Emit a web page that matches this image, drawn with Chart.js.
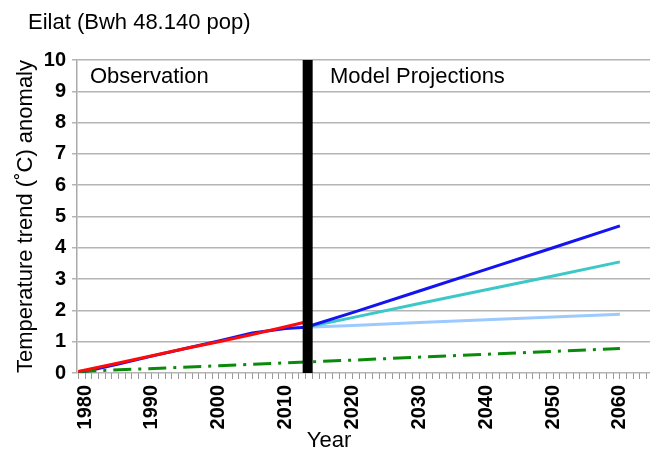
<!DOCTYPE html>
<html>
<head>
<meta charset="utf-8">
<script src="https://cdn.jsdelivr.net/npm/chart.js@4"></script>
<style>
  html, body { margin: 0; padding: 0; background: #fff; }
  #wrap { width: 652px; height: 453px; }
</style>
</head>
<body>
<div id="wrap"><canvas id="chart" width="652" height="453"></canvas></div>
<script>
// Observation period
const obsYears = [1979, 1985, 1990, 1995, 2000, 2005, 2010, 2013];
const obsRed = [0.05, 0.32, 0.55, 0.78, 1.0, 1.23, 1.48, 1.63];
const obsBlue = [0.0, 0.29, 0.54, 0.78, 1.02, 1.28, 1.42, 1.46];

// Model projections
const projYears = [2013, 2020, 2030, 2040, 2050, 2060];
const projHigh = [1.46, 1.93, 2.62, 3.31, 4.0, 4.7];
const projMid = [1.46, 1.77, 2.22, 2.66, 3.1, 3.55];
const projLow = [1.46, 1.52, 1.61, 1.7, 1.79, 1.88];

// Long-term trend (dash-dot)
const trendYears = [1979, 2000, 2013, 2020, 2040, 2060];
const trendValues = [0.05, 0.23, 0.35, 0.41, 0.6, 0.78];

// Divider between observation and projection
const dividerYear = 2013.3;
const dividerRange = [0, 10];

const yTicks = [0, 1, 2, 3, 4, 5, 6, 7, 8, 9, 10];
const xLabels = [1980, 1990, 2000, 2010, 2020, 2030, 2040, 2050, 2060];

const FONT = "Liberation Sans, Arial, sans-serif";

function pts(xs, ys) {
  return xs.map((x, i) => ({ x: x, y: ys[i] }));
}

function lineSet(label, data, color, width, order, dash) {
  return {
    label: label,
    data: data,
    borderColor: color,
    borderWidth: width,
    borderDash: dash || [],
    pointRadius: 0,
    fill: false,
    tension: 0,
    order: order,
  };
}

// Title, axis titles and texts inside the plot
const plotText = {
  id: "plotText",
  afterDraw(chart) {
    const ctx = chart.ctx;
    const y = chart.scales.y;
    const area = chart.chartArea;
    ctx.save();
    ctx.fillStyle = "#000";
    ctx.textBaseline = "middle";
    ctx.font = "22px " + FONT;
    ctx.textAlign = "left";
    ctx.fillText("Eilat (Bwh 48.140 pop)", 28, 23);
    ctx.fillText("Observation", area.left + 13, y.getPixelForValue(9.45));
    ctx.fillText("Model Projections", area.left + 253, y.getPixelForValue(9.45));
    ctx.textAlign = "center";
    ctx.fillText("Year", 329, 441);
    ctx.translate(26, (area.top + area.bottom) / 2);
    ctx.rotate(-Math.PI / 2);
    ctx.fillText("Temperature trend (˚C) anomaly", 0, 0);
    ctx.restore();
  },
};

new Chart(document.getElementById("chart"), {
  type: "line",
  data: {
    datasets: [
      lineSet("divider", dividerRange.map((v) => ({ x: dividerYear, y: v })), "#000", 10, 0),
      lineSet("redObs", pts(obsYears, obsRed), "#ff0a0a", 3, 1),
      lineSet("trend", pts(trendYears, trendValues), "#0a8a0a", 3, 2, [18, 7, 3, 7]),
      lineSet("blueObs", pts(obsYears, obsBlue), "#1414f0", 3, 3),
      lineSet("high", pts(projYears, projHigh), "#1414f0", 3, 3),
      lineSet("mid", pts(projYears, projMid), "#3cc8c8", 3, 4),
      lineSet("low", pts(projYears, projLow), "#9ccaff", 3, 5),
    ],
  },
  options: {
    responsive: false,
    animation: false,
    layout: { padding: { top: 60, right: 2, left: 0, bottom: 0 } },
    plugins: {
      legend: { display: false },
      tooltip: { enabled: false },
    },
    scales: {
      x: {
        type: "linear",
        min: 1978.8,
        max: 2064.5,
        border: { display: false },
        grid: {
          drawOnChartArea: false,
          drawTicks: true,
          tickLength: 6,
          color: "#999",
        },
        afterBuildTicks(axis) {
          const t = [];
          for (let v = 1979; v <= 2064; v++) t.push({ value: v });
          axis.ticks = t;
        },
        afterFit(axis) {
          axis.height = 80;
          axis.paddingLeft = 0;
          axis.paddingRight = 0;
        },
        ticks: {
          autoSkip: false,
          maxRotation: 90,
          minRotation: 90,
          padding: 6,
          color: "#000",
          font: { family: FONT, size: 20, weight: "bold" },
          callback: (v) => (xLabels.includes(v) ? String(v) : ""),
        },
      },
      y: {
        min: 0,
        max: 10,
        border: { display: true, color: "#aaa", width: 1.5 },
        grid: { color: "#b4b4b4", lineWidth: 1.5, tickLength: 5 },
        afterBuildTicks(axis) {
          axis.ticks = yTicks.map((v) => ({ value: v }));
        },
        afterFit(axis) {
          axis.width = 77;
          axis.paddingTop = 0;
          axis.paddingBottom = 0;
        },
        ticks: {
          color: "#000",
          padding: 6,
          font: { family: FONT, size: 20, weight: "bold" },
        },
      },
    },
  },
  plugins: [plotText],
});
</script>
</body>
</html>
